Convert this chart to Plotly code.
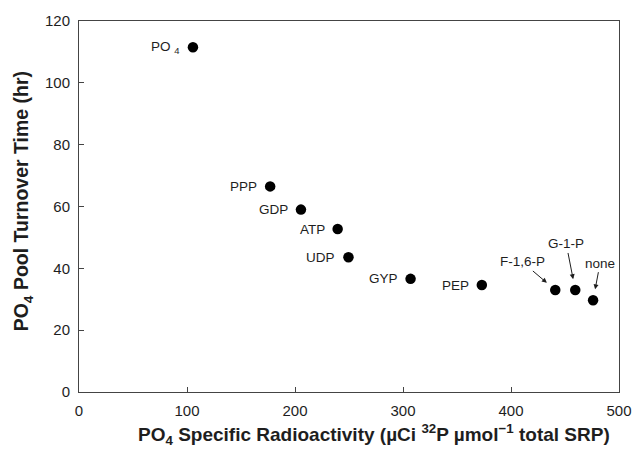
import plotly.graph_objects as go

# Data
labels = ["PO <sub>4</sub>", "PPP", "GDP", "ATP", "UDP", "GYP", "PEP", "F-1,6-P", "G-1-P", "none"]
specific_activity = [105.5, 177, 205.5, 239.5, 249.5, 307, 373, 441, 459.5, 476]
turnover_time = [111.5, 66.5, 59, 52.7, 43.6, 36.6, 34.6, 33, 33, 29.7]

x_ticks = [0, 100, 200, 300, 400, 500]
y_ticks = [0, 20, 40, 60, 80, 100, 120]

left_labels = ["PO <sub>4</sub>", "PPP", "GDP", "ATP", "UDP", "GYP", "PEP"]
arrow_offsets = {"F-1,6-P": (-33, -28), "G-1-P": (-9, -46), "none": (7, -37)}

FONT = "Liberation Sans, Arial, sans-serif"
INK = "#1e1e1e"

fig = go.Figure()
fig.add_trace(go.Scatter(
    x=specific_activity, y=turnover_time, mode="markers",
    marker=dict(size=10.5, color="black"), hoverinfo="skip", showlegend=False))

annotations = []
for lab, xv, yv in zip(labels, specific_activity, turnover_time):
    if lab in left_labels:
        annotations.append(dict(x=xv, y=yv, xref="x", yref="y", text=lab,
                                showarrow=False, xanchor="right", xshift=-11,
                                font=dict(family=FONT, size=13.5, color=INK)))
    else:
        ax, ay = arrow_offsets[lab]
        annotations.append(dict(x=xv, y=yv, xref="x", yref="y", text=lab,
                                showarrow=True, ax=ax, ay=ay, arrowhead=2,
                                arrowsize=1, arrowwidth=1, arrowcolor=INK,
                                standoff=11,
                                font=dict(family=FONT, size=13.5, color=INK)))

annotations.append(dict(
    text="PO<sub>4</sub> Specific Radioactivity (µCi <sup>32</sup>P µmol<sup>−1</sup> total SRP)",
    xref="paper", yref="paper", x=0.546, y=-0.115, xanchor="center", yanchor="middle",
    showarrow=False, font=dict(family=FONT, size=19, color=INK, weight="bold")))
annotations.append(dict(
    text="PO<sub>4</sub> Pool Turnover Time (hr)",
    xref="paper", yref="paper", x=-0.103, y=0.515, xanchor="center", yanchor="middle",
    textangle=-90, showarrow=False,
    font=dict(family=FONT, size=19.5, color=INK, weight="bold")))

axis_common = dict(showgrid=False, zeroline=False, showline=True, linecolor="#444",
                   linewidth=1, mirror=True, ticks="inside", ticklen=5,
                   tickcolor="#444", ticklabelstandoff=5,
                   tickfont=dict(family=FONT, size=15, color=INK))

fig.update_layout(
    width=644, height=450,
    margin=dict(l=79, r=22, t=19, b=58),
    plot_bgcolor="white", paper_bgcolor="white",
    xaxis=dict(range=[0, 500], tickvals=x_ticks, **axis_common),
    yaxis=dict(range=[0, 120], tickvals=y_ticks, **axis_common),
    annotations=annotations,
)

fig.write_html("out.html", config={"displayModeBar": False},
               post_script="document.body.style.margin='0';")
